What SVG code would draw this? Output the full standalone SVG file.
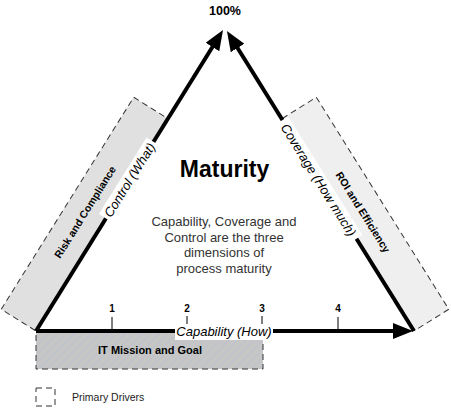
<svg xmlns="http://www.w3.org/2000/svg" width="451" height="408" viewBox="0 0 451 408">
<style>
.band{stroke:#333;stroke-width:1;stroke-dasharray:6 4}
.edge{stroke:#000;stroke-width:4;fill:none;marker-end:url(#ah)}
.tick{stroke:#000;stroke-width:1}
.lbl{font-family:"Liberation Sans",Arial,sans-serif;font-size:13px;font-style:italic;fill:#000;text-anchor:middle}
.bold{font-family:"Liberation Sans",Arial,sans-serif;font-weight:bold;fill:#000;text-anchor:middle}
.body{font-family:"Liberation Sans",Arial,sans-serif;font-size:13px;fill:#333;text-anchor:middle}
</style>
<defs>
<marker id="ah" markerUnits="userSpaceOnUse" markerWidth="20" markerHeight="16" viewBox="0 0 20 16" refX="12" refY="8" orient="auto">
<path d="M0,0 L20,8 L0,16 z" fill="#000"/>
</marker>
<pattern id="hatch" patternUnits="userSpaceOnUse" width="6" height="6" patternTransform="rotate(45)">
<rect width="6" height="6" fill="#c6c6c6"/>
<line x1="0" y1="0" x2="0" y2="6" stroke="#b6c0d2" stroke-width="1.2"/>
</pattern>
</defs>
<g id="risk-compliance">
<rect class="band" transform="translate(36,331) rotate(-58)" x="0" y="-41" width="250" height="40" fill="#e0e0e0"/>
<text class="bold" font-size="10.5" transform="translate(85,212) rotate(-58)" x="0" y="3.8">Risk and Compliance</text>
</g>
<g id="roi-efficiency">
<rect class="band" transform="translate(414,331) rotate(-122)" x="0" y="1" width="250" height="40" fill="#efefef"/>
<text class="bold" font-size="10.5" transform="translate(363,212) rotate(58)" x="0" y="3.8">ROI and Efficiency</text>
</g>
<g id="it-mission">
<rect class="band" x="36" y="331" width="227" height="38" fill="url(#hatch)"/>
<text class="bold" font-size="11" x="150" y="354">IT Mission and Goal</text>
</g>
<g id="connectors">
<line class="edge" x1="36" y1="331" x2="218.8" y2="36.8"/>
<line class="edge" x1="414" y1="331" x2="231.2" y2="37.8"/>
<line class="edge" x1="36" y1="331" x2="405" y2="331"/>
<line class="tick" x1="112" y1="317" x2="112" y2="331"/>
<line class="tick" x1="187" y1="316" x2="187" y2="331"/>
<line class="tick" x1="262" y1="316" x2="262" y2="331"/>
<line class="tick" x1="338" y1="317" x2="338" y2="331"/>
</g>
<g id="control-label">
<rect transform="translate(129.5,180) rotate(-58)" x="-45" y="-8" width="90" height="16" fill="#fff"/>
<text class="lbl" transform="translate(129.5,180) rotate(-58)" x="0" y="4.5">Control (What)</text>
</g>
<g id="coverage-label">
<rect transform="translate(318.5,180) rotate(58)" x="-70" y="-8" width="140" height="16" fill="#fff"/>
<text class="lbl" transform="translate(318.5,180) rotate(58)" x="0" y="4.5">Coverage (How much)</text>
</g>
<g id="capability-label">
<rect x="175" y="324" width="98" height="16" fill="#fff"/>
<text class="lbl" x="224" y="335.5">Capability (How)</text>
</g>
<g id="ticks-labels">
<text class="bold" font-size="10" x="112" y="312">1</text>
<text class="bold" font-size="10" x="187" y="312">2</text>
<text class="bold" font-size="10" x="262" y="312">3</text>
<text class="bold" font-size="10" x="338" y="312">4</text>
</g>
<g id="top-label">
<text class="bold" font-size="12.5" x="225" y="15">100%</text>
</g>
<g id="maturity">
<text class="bold" font-size="23" x="224.5" y="177">Maturity</text>
<text class="body" x="224" y="226">Capability, Coverage and</text>
<text class="body" x="224" y="241.5">Control are the three</text>
<text class="body" x="224" y="257">dimensions of</text>
<text class="body" x="224" y="272.5">process maturity</text>
</g>
<g id="legend">
<rect class="band" x="36" y="388" width="19" height="18" fill="none"/>
<text x="72" y="401" font-family="Liberation Sans, Arial, sans-serif" font-size="10.5" fill="#222">Primary Drivers</text>
</g>
</svg>
